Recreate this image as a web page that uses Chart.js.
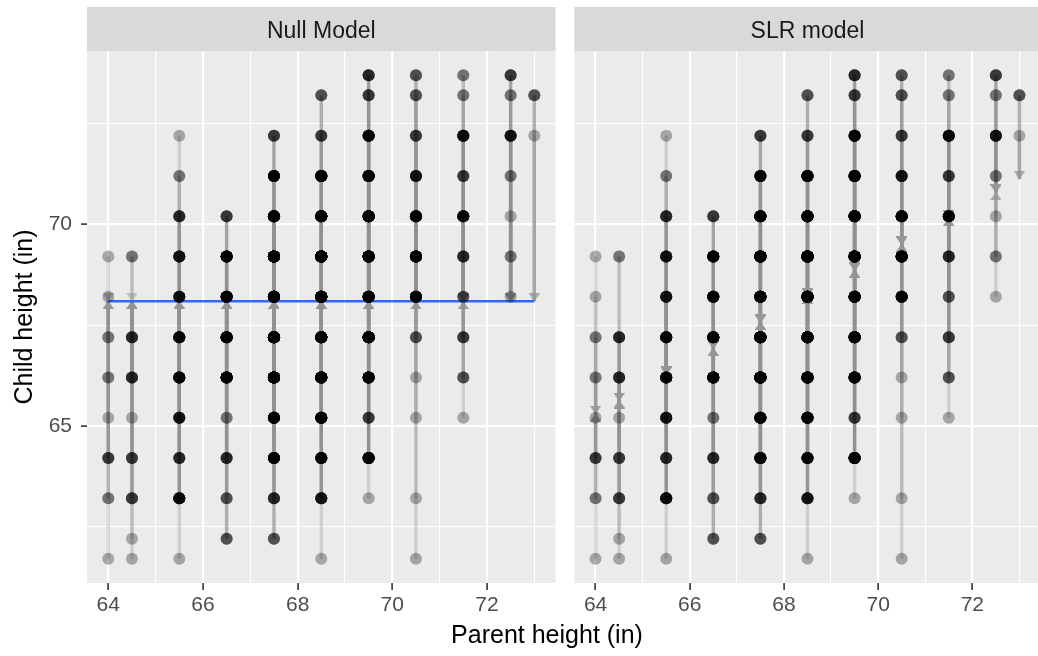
<!DOCTYPE html>
<html>
<head>
<meta charset="utf-8">
<script src="https://cdn.jsdelivr.net/npm/chart.js@4"></script>
<style>
  html, body { margin: 0; padding: 0; background: #fff; width: 1038px; height: 656px; overflow: hidden; }
  .panel { position: absolute; top: 0; height: 656px; }
  #xtitle { position: absolute; left: 347px; width: 400px; top: 622px; text-align: center;
            font: 25px/25px "Liberation Sans", Arial, sans-serif; color: #000; }
</style>
</head>
<body>
<div class="panel" style="left:0;width:564px"><canvas id="nullChart"></canvas></div>
<div class="panel" style="left:566px;width:483px"><canvas id="slrChart"></canvas></div>
<div id="xtitle">Parent height (in)</div>
<script>
// Galton data: number of children at each (parent, child) height
const parentHeights = [64, 64.5, 65.5, 66.5, 67.5, 68.5, 69.5, 70.5, 71.5, 72.5, 73];
const childHeights = [61.7, 62.2, 63.2, 64.2, 65.2, 66.2, 67.2, 68.2, 69.2, 70.2, 71.2, 72.2, 73.2, 73.7];
const counts = [
    [1, 0, 2, 4, 1, 2, 2, 1, 1, 0, 0, 0, 0, 0],
    [1, 1, 4, 4, 1, 5, 5, 0, 2, 0, 0, 0, 0, 0],
    [1, 0, 9, 5, 7, 11, 11, 7, 7, 5, 2, 1, 0, 0],
    [0, 3, 3, 5, 2, 17, 17, 14, 13, 4, 0, 0, 0, 0],
    [0, 3, 5, 14, 15, 36, 38, 28, 38, 19, 11, 4, 0, 0],
    [1, 0, 7, 11, 16, 25, 31, 34, 48, 21, 18, 4, 3, 0],
    [0, 0, 1, 16, 4, 17, 27, 20, 33, 25, 20, 11, 4, 5],
    [1, 0, 1, 0, 1, 1, 3, 12, 18, 14, 7, 4, 3, 3],
    [0, 0, 0, 0, 1, 3, 4, 3, 5, 10, 4, 9, 2, 2],
    [0, 0, 0, 0, 0, 0, 0, 1, 2, 1, 2, 7, 2, 4],
    [0, 0, 0, 0, 0, 0, 0, 0, 0, 0, 0, 1, 3, 0]
];
const xTicks = [64, 65, 66, 67, 68, 69, 70, 71, 72, 73];
const yTicks = [62.5, 65, 67.5, 70, 72.5];

const FONT = '"Liberation Sans", Arial, sans-serif';

// fit the two models from the counts
let n = 0, sx = 0, sy = 0, sxx = 0, sxy = 0;
parentHeights.forEach((p, i) => childHeights.forEach((c, j) => {
    const k = counts[i][j];
    n += k; sx += k * p; sy += k * c; sxx += k * p * p; sxy += k * p * c;
}));
const meanChild = sy / n;
const slope = (sxy - sx * sy / n) / (sxx - sx * sx / n);
const intercept = meanChild - slope * sx / n;

const arrowCache = {};
function arrowHead(alpha, down) {
    const key = alpha.toFixed(3) + down;
    if (arrowCache[key]) return arrowCache[key];
    const c = document.createElement('canvas');
    c.width = 11; c.height = 16;
    const g = c.getContext('2d');
    g.fillStyle = 'rgba(150,150,150,' + alpha + ')';
    g.beginPath();
    if (down) { g.moveTo(0, 0); g.lineTo(11, 0); g.lineTo(5.5, 8); }
    else { g.moveTo(0, 16); g.lineTo(11, 16); g.lineTo(5.5, 8); }
    g.closePath();
    g.fill();
    arrowCache[key] = c;
    return c;
}

function buildDatasets(fit, showMean) {
    const points = [];
    const segments = [];
    parentHeights.forEach((p, i) => childHeights.forEach((c, j) => {
        const k = counts[i][j];
        if (!k) return;
        for (let m = 0; m < k; m++) points.push({x: p, y: c});
        const f = fit(p);
        const a = 1 - Math.pow(0.68, k);
        const img = arrowHead(a, c > f);
        segments.push({
            type: 'scatter',
            showLine: true,
            data: [{x: p, y: c}, {x: p, y: f}],
            borderColor: 'rgba(145,145,145,' + a + ')',
            borderWidth: 3.4,
            pointRadius: [0, 5],
            pointStyle: img,
            order: 3
        });
    }));
    const sets = [{
        type: 'scatter',
        data: points,
        backgroundColor: 'rgba(0,0,0,0.3)',
        borderWidth: 0,
        pointRadius: 6,
        order: 1
    }];
    if (showMean) {
        sets.push({
            type: 'scatter',
            showLine: true,
            data: [{x: parentHeights[0], y: meanChild}, {x: parentHeights[parentHeights.length - 1], y: meanChild}],
            borderColor: '#3366FF',
            borderWidth: 2.5,
            pointRadius: 0,
            order: 2
        });
    }
    return sets.concat(segments);
}

const isMajorX = v => v % 2 === 0;
const isMajorY = v => v % 5 === 0;

function makeScales(showY) {
    return {
        x: {
            type: 'linear', min: 63.55, max: 73.45,
            afterBuildTicks: s => { s.ticks = xTicks.map(v => ({value: v})); },
            afterFit: s => { s.height = 73; s.paddingLeft = 0; s.paddingRight = 0; },
            border: {display: false},
            grid: {
                color: '#ffffff',
                lineWidth: c => (c.tick && isMajorX(c.tick.value)) ? 2.2 : 1.1,
                tickLength: 7,
                tickWidth: 1.6,
                tickColor: c => (c.tick && isMajorX(c.tick.value)) ? '#333333' : 'rgba(0,0,0,0)'
            },
            ticks: {
                autoSkip: false, maxRotation: 0, padding: 3,
                color: '#4d4d4d', font: {family: FONT, size: 21},
                callback: v => isMajorX(v) ? String(v) : ''
            }
        },
        y: {
            type: 'linear', min: 61.1, max: 74.3,
            afterBuildTicks: s => { s.ticks = yTicks.map(v => ({value: v})); },
            afterFit: s => { s.width = showY ? 87 : 0; s.paddingTop = 0; s.paddingBottom = 0; },
            border: {display: false},
            title: {
                display: showY, text: 'Child height (in)', color: '#000000',
                font: {family: FONT, size: 25}, padding: {top: 10, bottom: 0}
            },
            grid: {
                color: '#ffffff',
                lineWidth: c => (c.tick && isMajorY(c.tick.value)) ? 2.2 : 1.1,
                drawTicks: showY,
                tickLength: 6,
                tickWidth: 1.6,
                tickColor: c => (c.tick && isMajorY(c.tick.value)) ? '#333333' : 'rgba(0,0,0,0)'
            },
            ticks: {
                display: showY, autoSkip: false, padding: 9,
                color: '#4d4d4d', font: {family: FONT, size: 21},
                callback: v => isMajorY(v) ? String(v) : ''
            }
        }
    };
}

const stripPlugin = {
    id: 'strip',
    beforeDraw(chart, args, opts) {
        const {ctx, chartArea: a} = chart;
        ctx.save();
        ctx.fillStyle = '#ebebeb';
        ctx.fillRect(a.left, a.top, a.width, a.height);
        ctx.fillStyle = '#d9d9d9';
        ctx.fillRect(a.left, 7, a.width, a.top - 7);
        ctx.fillStyle = '#1a1a1a';
        ctx.font = '23px ' + FONT;
        ctx.textAlign = 'center';
        ctx.textBaseline = 'alphabetic';
        ctx.fillText(opts.text, (a.left + a.right) / 2, 37.5);
        ctx.restore();
    }
};

function makeChart(id, text, fit, showMean, showY, padding) {
    return new Chart(document.getElementById(id).getContext('2d'), {
        type: 'scatter',
        data: {datasets: buildDatasets(fit, showMean)},
        options: {
            responsive: true,
            maintainAspectRatio: false,
            animation: false,
            events: [],
            layout: {padding: padding},
            scales: makeScales(showY),
            plugins: {
                legend: {display: false},
                tooltip: {enabled: false},
                strip: {text: text}
            }
        },
        plugins: [stripPlugin]
    });
}

const nullChart = makeChart('nullChart', 'Null Model', p => meanChild, true, true,
    {top: 51, left: 0, right: 0, bottom: 0});
const slrChart = makeChart('slrChart', 'SLR model', p => intercept + slope * p, false, false,
    {top: 51, left: 4, right: 0, bottom: 0});
</script>
</body>
</html>
